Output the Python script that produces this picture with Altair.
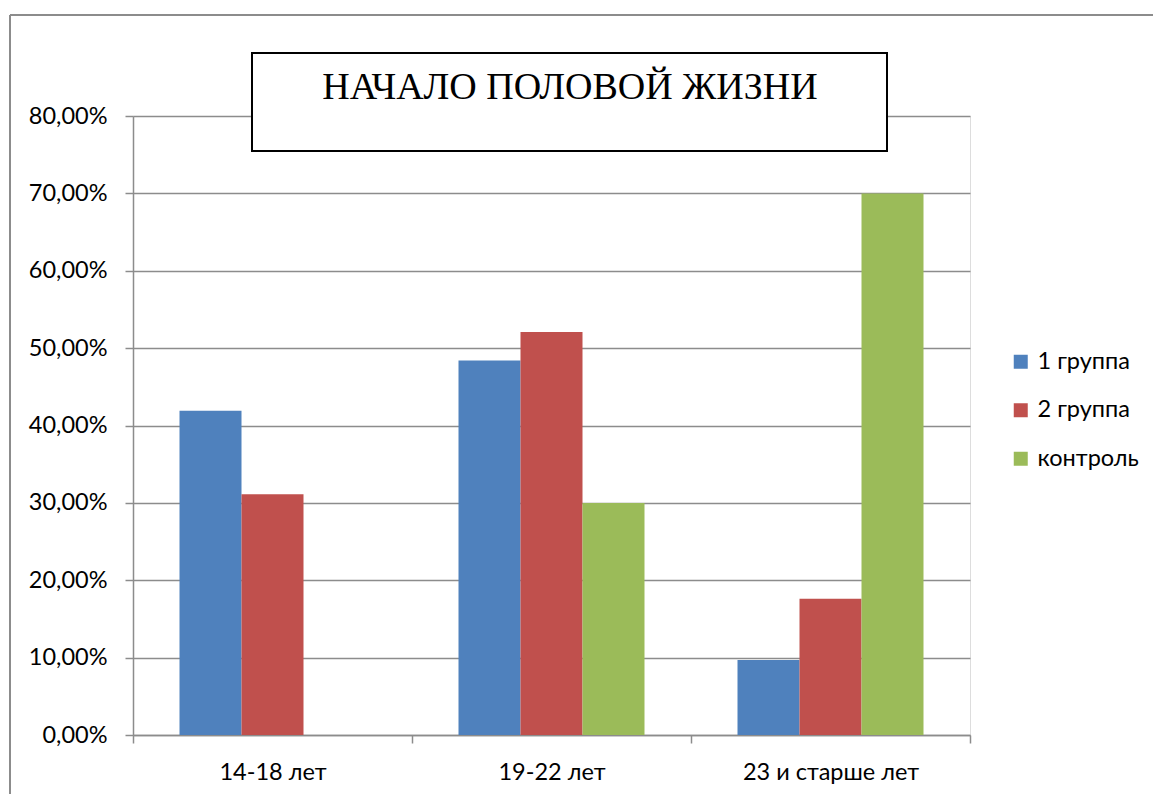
import altair as alt
import pandas as pd

categories = ["14-18 лет", "19-22 лет", "23 и старше лет"]
groups = ["1 группа", "2 группа", "контроль"]
group1 = [41.9, 48.4, 9.7]
group2 = [31.1, 52.1, 17.6]
control = [0.0, 30.0, 70.0]
colors = ["#4F81BD", "#C0504D", "#9BBB59"]
y_ticks = [0, 10, 20, 30, 40, 50, 60, 70, 80]
title_text = "НАЧАЛО ПОЛОВОЙ ЖИЗНИ"

rows = []
for series, vals in zip(groups, [group1, group2, control]):
    for c, v in zip(categories, vals):
        rows.append({"cat": c, "grp": series, "val": v})
df = pd.DataFrame(rows)

W, H = 837, 619
FONT = "Lato"
FS = 23.5
GRID = "#8C8C8C"

bars = alt.Chart(df).mark_bar(strokeWidth=0).encode(
    x=alt.X("cat:N", sort=categories, title=None,
            scale=alt.Scale(paddingInner=0, paddingOuter=0),
            axis=alt.Axis(labelAngle=0, tickBand="extent", tickSize=8, tickColor=GRID,
                          tickWidth=1.5, domainColor=GRID, domainWidth=1.5,
                          labelFont=FONT, labelFontSize=FS, labelColor="#000000",
                          labelPadding=17, grid=False)),
    xOffset=alt.XOffset("grp:N", sort=groups,
                        scale=alt.Scale(paddingInner=0, paddingOuter=0.75)),
    y=alt.Y("val:Q", title=None,
            scale=alt.Scale(domain=[0, 80], nice=False),
            axis=alt.Axis(values=y_ticks, grid=True, gridColor=GRID, gridWidth=1.5,
                          tickSize=8, tickColor=GRID, tickWidth=1.5,
                          domainColor=GRID, domainWidth=1.5,
                          labelFont=FONT, labelFontSize=FS, labelColor="#000000",
                          labelPadding=18,
                          labelExpr="replace(format(datum.value, '.2f'), '.', ',') + '%'")),
    color=alt.Color("grp:N", sort=groups,
                    scale=alt.Scale(domain=groups, range=colors),
                    legend=alt.Legend(title=None, orient="none", legendX=876, legendY=234,
                                      symbolType="square", symbolSize=196,
                                      symbolStrokeWidth=0, labelFont=FONT,
                                      labelFontSize=FS, labelColor="#000000",
                                      labelOffset=5, rowPadding=23.5)),
)

one = pd.DataFrame({"a": [0]})
border_left = alt.Chart(one).mark_rule(color="#8C8C8C", strokeWidth=2).encode(
    x=alt.value(-123), y=alt.value(-101), y2=alt.value(680))
border_top = alt.Chart(one).mark_rule(color="#8C8C8C", strokeWidth=2).encode(
    x=alt.value(-123), x2=alt.value(1022), y=alt.value(-101))

title_box = alt.Chart(one).mark_rect(fill="white", stroke="black", strokeWidth=2).encode(
    x=alt.value(119), x2=alt.value(754), y=alt.value(-63), y2=alt.value(35))
title_txt = alt.Chart(one).mark_text(text=title_text, font="Liberation Serif",
                                     fontSize=38, color="black", baseline="middle",
                                     align="center").encode(
    x=alt.value(437), y=alt.value(-28))

chart = alt.layer(bars, border_left, border_top, title_box, title_txt).properties(
    width=W, height=H,
    autosize=alt.AutoSizeParams(type="none"),
    padding={"left": 133, "top": 116, "right": 183, "bottom": 59},
).configure_view(stroke=None).configure(background="white")

chart.save("out.html", embed_options={"renderer": "svg", "actions": False})
